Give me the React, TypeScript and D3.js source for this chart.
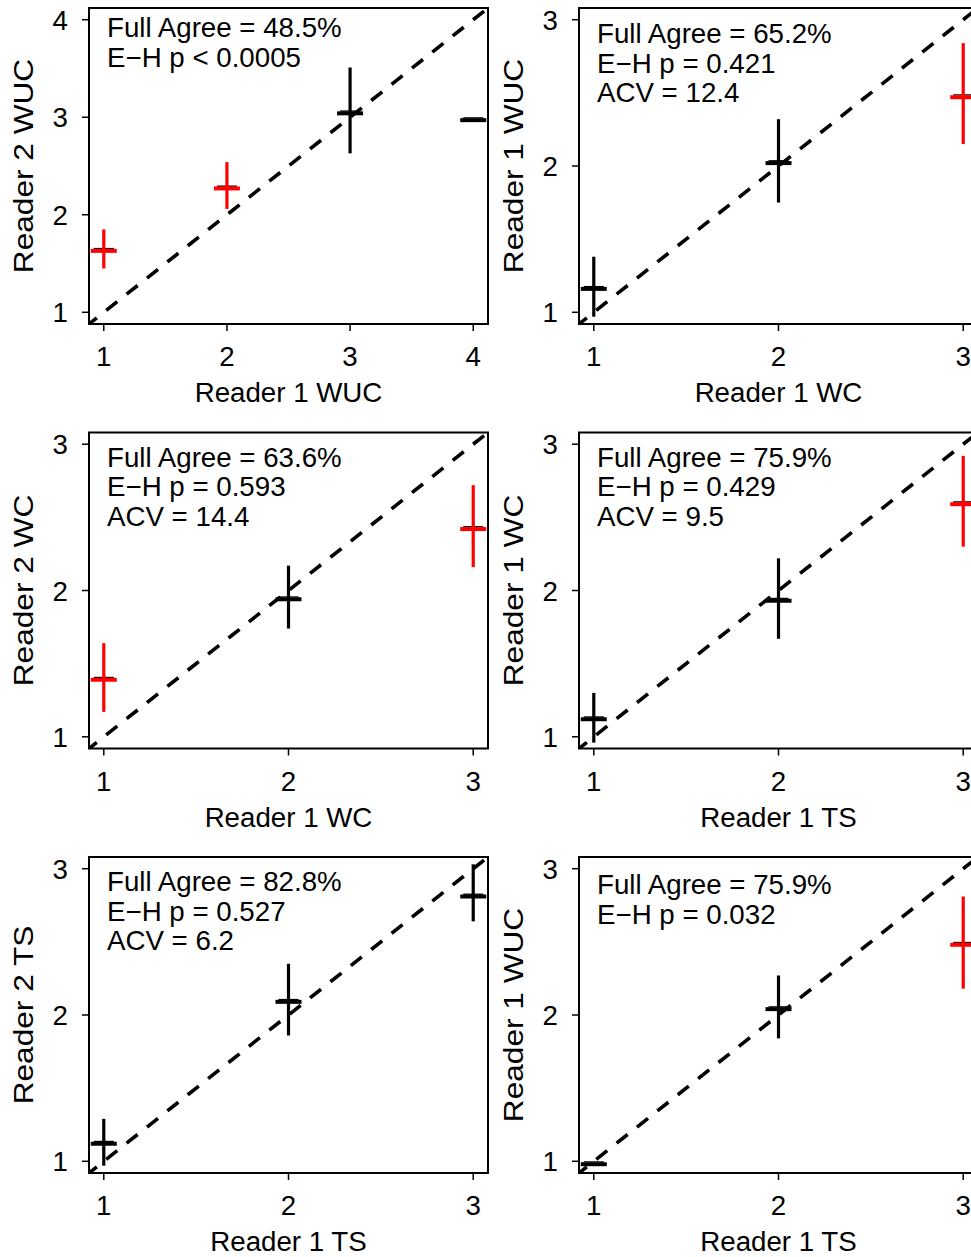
import React from "react";
import * as d3 from "d3";

// axis titles and score range for each panel (row by row, left to right)
const xTitles = ["Reader 1 WUC", "Reader 1 WC", "Reader 1 WC", "Reader 1 TS", "Reader 1 TS", "Reader 1 TS"];
const yTitles = ["Reader 2 WUC", "Reader 1 WUC", "Reader 2 WC", "Reader 1 WC", "Reader 2 TS", "Reader 1 WUC"];
const maxScore = [4, 3, 3, 3, 3, 3];

// mean of the y reader at each x score, with its interval; red = flagged
const p1Mean = [1.63, 2.27, 3.04, 2.97];
const p1Lo = [1.45, 2.06, 2.63, 2.97];
const p1Hi = [1.85, 2.54, 3.51, 2.97];
const p1Red = [true, true, false, false];

const p2Mean = [1.16, 2.02, 2.47];
const p2Lo = [0.97, 1.75, 2.15];
const p2Hi = [1.38, 2.32, 2.84];
const p2Red = [false, false, true];

const p3Mean = [1.39, 1.94, 2.42];
const p3Lo = [1.17, 1.74, 2.16];
const p3Hi = [1.64, 2.17, 2.72];
const p3Red = [true, false, true];

const p4Mean = [1.12, 1.93, 2.59];
const p4Lo = [0.96, 1.67, 2.3];
const p4Hi = [1.3, 2.22, 2.92];
const p4Red = [false, false, true];

const p5Mean = [1.12, 2.09, 2.81];
const p5Lo = [0.97, 1.86, 2.64];
const p5Hi = [1.29, 2.35, 3.03];
const p5Red = [false, false, false];

const p6Mean = [0.98, 2.04, 2.48];
const p6Lo = [0.98, 1.84, 2.18];
const p6Hi = [0.98, 2.27, 2.81];
const p6Red = [false, false, true];

const p1Notes = ["Full Agree = 48.5%", "E\u2212H p < 0.0005"];
const p2Notes = ["Full Agree = 65.2%", "E\u2212H p = 0.421", "ACV = 12.4"];
const p3Notes = ["Full Agree = 63.6%", "E\u2212H p = 0.593", "ACV = 14.4"];
const p4Notes = ["Full Agree = 75.9%", "E\u2212H p = 0.429", "ACV = 9.5"];
const p5Notes = ["Full Agree = 82.8%", "E\u2212H p = 0.527", "ACV = 6.2"];
const p6Notes = ["Full Agree = 75.9%", "E\u2212H p = 0.032"];

const means = [p1Mean, p2Mean, p3Mean, p4Mean, p5Mean, p6Mean];
const lows = [p1Lo, p2Lo, p3Lo, p4Lo, p5Lo, p6Lo];
const highs = [p1Hi, p2Hi, p3Hi, p4Hi, p5Hi, p6Hi];
const flags = [p1Red, p2Red, p3Red, p4Red, p5Red, p6Red];
const notes = [p1Notes, p2Notes, p3Notes, p4Notes, p5Notes, p6Notes];

// layout
const W = 971;
const H = 1257;
const colStep = 490;
const rowStep = 424.5;
const boxW = 399;
const boxH = 316;
const box0 = { left: 89, top: 8 };
const noteTop = [29, 35, 34, 34, 34, 37];
const font = "'Liberation Sans', Arial, Helvetica, sans-serif";
const fs = 27.7;

function Panel({ i }: { i: number }) {
  const col = i % 2;
  const row = Math.floor(i / 2);
  const left = box0.left + col * colStep;
  const top = box0.top + row * rowStep;
  const hi = maxScore[i];
  const pad = (hi - 1) * 0.04;
  const dom: [number, number] = [1 - pad, hi + pad];
  const x = d3.scaleLinear().domain(dom).range([left, left + boxW]);
  const y = d3.scaleLinear().domain(dom).range([top + boxH, top]);
  const ticks = d3.range(1, hi + 1);
  const clipId = `clip${i}`;
  const diag = d3.line<number>().x((d) => x(d)).y((d) => y(d))(dom) ?? "";

  return (
    <g>
      <clipPath id={clipId}>
        <rect x={left} y={top} width={boxW} height={boxH} />
      </clipPath>
      <path d={diag} stroke="#000" strokeWidth={3.6} strokeDasharray="14,12" strokeDashoffset={4} fill="none" clipPath={`url(#${clipId})`} />

      {means[i].map((m, k) => {
        const cx = x(k + 1);
        const cy = y(m);
        const c = flags[i][k] ? "#ff0000" : "#000";
        const lo = lows[i][k];
        const up = highs[i][k];
        return (
          <g key={k}>
            <line x1={cx - 10} x2={cx + 10} y1={cy - 2.3} y2={cy - 2.3} stroke="#000" strokeWidth={1.3} />
            {up > lo && <line x1={cx} x2={cx} y1={y(up)} y2={y(lo)} stroke={c} strokeWidth={3.2} />}
            <line x1={cx - 13} x2={cx + 13} y1={cy} y2={cy} stroke={c} strokeWidth={4} />
          </g>
        );
      })}

      <rect x={left} y={top} width={boxW} height={boxH} fill="none" stroke="#000" strokeWidth={2} />

      {ticks.map((t) => (
        <g key={`x${t}`}>
          <line x1={x(t)} x2={x(t)} y1={top + boxH} y2={top + boxH + 7} stroke="#000" strokeWidth={1.5} />
          <text x={x(t)} y={top + boxH + 42} textAnchor="middle" fontSize={fs}>{t}</text>
        </g>
      ))}
      {ticks.map((t) => (
        <g key={`y${t}`}>
          <line x1={left - 7} x2={left} y1={y(t)} y2={y(t)} stroke="#000" strokeWidth={1.5} />
          <text x={left - 21} y={y(t) + 10} textAnchor="end" fontSize={fs}>{t}</text>
        </g>
      ))}

      <text x={left + boxW / 2} y={top + boxH + 78} textAnchor="middle" fontSize={fs}>{xTitles[i]}</text>
      <text transform={`translate(${left - 56},${top + boxH / 2}) rotate(-90) scale(1.13,1)`} textAnchor="middle" fontSize={28}>
        {yTitles[i]}
      </text>

      {notes[i].map((s, k) => (
        <text key={k} x={left + 18} y={top + noteTop[i] + k * 29.5} fontSize={fs}>{s}</text>
      ))}
    </g>
  );
}

export default function App() {
  return (
    <div style={{ position: "absolute", left: 0, top: 0, width: W, height: H, overflow: "hidden", background: "#fff" }}>
      <svg width={W} height={H} style={{ display: "block", fontFamily: font }}>
        <rect width={W} height={H} fill="#fff" />
        {d3.range(6).map((i) => (
          <Panel key={i} i={i} />
        ))}
      </svg>
    </div>
  );
}
